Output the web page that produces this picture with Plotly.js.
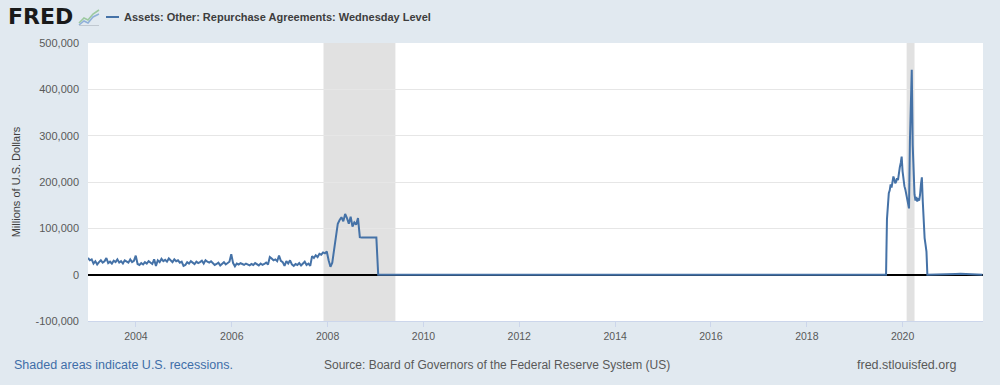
<!DOCTYPE html>
<html>
<head>
<meta charset="utf-8">
<script src="https://cdn.plot.ly/plotly-3.0.1.min.js"></script>
<style>
html,body{margin:0;padding:0;background:#e1e9f0;}
#chart{width:1000px;height:385px;}
</style>
</head>
<body>
<div id="chart"></div>
<script>
// ---- DATA (millions of U.S. dollars) ----
// Biweekly readings, starting 2003-01-01, 14-day steps (2003 .. 2008)
const seg1Start = "2003-01-01";
const seg1StepDays = 14;
const seg1Values = [
  36000, 31000, 33000, 24000, 29000, 22000, 27000, 31000, 26000, 29000, 36000, 25000, 28000,
  24000, 30000, 27000, 33000, 26000, 29000, 24000, 31000, 28000, 26000, 33000, 27000, 30000,
  41000, 23000, 21000, 25000, 22000, 27000, 24000, 29000, 26000, 23000, 33000, 19000, 31000,
  27000, 34000, 29000, 32000, 28000, 35000, 30000, 27000, 33000, 29000, 31000, 26000, 28000,
  19000, 21000, 27000, 24000, 29000, 26000, 23000, 28000, 25000, 27000, 30000, 24000, 31000,
  28000, 26000, 29000, 24000, 21000, 23000, 26000, 20000, 24000, 27000, 22000, 25000, 28000,
  44000, 25000, 18000, 24000, 22000, 25000, 23000, 21000, 24000, 22000, 20000, 23000, 21000,
  25000, 22000, 20000, 24000, 21000, 23000, 26000, 22000, 38000, 35000, 31000, 33000, 29000,
  41000, 30000, 27000, 19000, 29000, 24000, 31000, 22000, 19000, 23000, 21000, 25000, 20000,
  23000, 28000, 21000, 24000, 19000, 40000, 36000, 42000, 38000, 45000, 43000, 48000, 46000,
  50000, 31000, 17000, 26000, 55000, 90000, 110000, 118000, 124000, 115000, 131000, 122000, 110000,
  125000, 104000, 113000, 108000, 122000, 81000, 80000, 80000, 80000, 80000, 80000, 80000, 80000
];
// Individual readings between the two episodes
const seg2Dates = ["2009-01-07", "2009-01-21", "2019-08-28"];
const seg2Values = [80000, 0, 0];
// Weekly readings, starting 2019-09-04
const seg3Start = "2019-09-04";
const seg3StepDays = 7;
const seg3Values = [
  120000, 165000, 176000, 182000, 195000, 188000, 200000, 212000, 206000, 197000,
  201000, 208000, 204000, 222000, 232000, 241000, 255000, 223000, 205000, 191000,
  184000, 173000, 165000, 152000, 143000, 290000, 360000, 442000, 281000, 210000,
  173000, 160000, 168000, 158000, 165000, 160000, 172000, 195000, 210000, 158000,
  95000, 79000, 65000, 50000, 0
];
// Late readings
const seg4Dates = ["2021-01-06", "2021-02-10", "2021-03-17", "2021-04-21", "2021-06-02", "2021-09-01"];
const seg4Values = [0, 1500, 1800, 1500, 0, 0];

// Recessions
const recessionStarts = ["2007-12-01", "2020-02-01"];
const recessionEnds = ["2009-06-01", "2020-04-01"];

// Axis ticks
const yTickVals = [-100000, 0, 100000, 200000, 300000, 400000, 500000];
const yTickText = ["-100,000", "0", "100,000", "200,000", "300,000", "400,000", "500,000"];
const xTickVals = ["2004-01-01","2006-01-01","2008-01-01","2010-01-01","2012-01-01","2014-01-01","2016-01-01","2018-01-01","2020-01-01"];
const xTickText = ["2004","2006","2008","2010","2012","2014","2016","2018","2020"];

// ---- build series ----
function stepDates(start, stepDays, n) {
  const out = [];
  const t0 = new Date(start + "T00:00:00Z").getTime();
  for (let i = 0; i < n; i++) {
    out.push(new Date(t0 + i * stepDays * 86400000).toISOString().slice(0, 10));
  }
  return out;
}
const xs = [].concat(
  stepDates(seg1Start, seg1StepDays, seg1Values.length),
  seg2Dates,
  stepDates(seg3Start, seg3StepDays, seg3Values.length),
  seg4Dates
);
const ys = [].concat(seg1Values, seg2Values, seg3Values, seg4Values);

const trace = {
  x: xs, y: ys, type: "scatter", mode: "lines",
  line: {color: "#4572a7", width: 2},
  hoverinfo: "skip", showlegend: false
};

const T = 43, B = 64, PH = 385 - T - B, PW = 1000 - 88 - 17;
const shapes = recessionStarts.map((s, i) => ({
  type: "rect", xref: "x", yref: "paper", x0: s, x1: recessionEnds[i], y0: 0, y1: 1,
  fillcolor: "#e1e1e1", line: {width: 0}, layer: "below"
}));
// legend swatch
shapes.push({type: "line", xref: "paper", yref: "paper",
  x0: (106 - 88) / PW, x1: (119 - 88) / PW, y0: 1 + (T - 17) / PH, y1: 1 + (T - 17) / PH,
  line: {color: "#4572a7", width: 2}});

const logoSvg = '<svg xmlns="http://www.w3.org/2000/svg" width="22" height="18" viewBox="0 0 22 18">' +
  '<rect x="0" y="0" width="22" height="18" fill="#e1e9f0"/>' +
  '<polyline points="1,15 6,10 10,12 15,6 21,2" fill="none" stroke="#9cc9a0" stroke-width="1.6"/>' +
  '<polyline points="1,17 6,13 10,15 15,9 21,6" fill="none" stroke="#8fb0d8" stroke-width="1.6"/>' +
  '<line x1="1" y1="17.5" x2="21" y2="17.5" stroke="#c0c8d0" stroke-width="1"/></svg>';

const layout = {
  width: 1000, height: 385,
  paper_bgcolor: "#e1e9f0", plot_bgcolor: "#ffffff",
  margin: {l: 88, r: 17, t: T, b: B},
  font: {family: "Liberation Sans, Arial, sans-serif", size: 11, color: "#595959"},
  xaxis: {
    type: "date", range: ["2003-01-01", "2021-09-05"],
    tickvals: xTickVals, ticktext: xTickText,
    showgrid: false, zeroline: false,
    showline: true, linecolor: "#ccd6eb", linewidth: 1,
    ticks: "outside", ticklen: 5, tickcolor: "#ccd6eb",
    tickfont: {family: "Liberation Sans, Arial, sans-serif", size: 10.5, color: "#595959"},
    fixedrange: true
  },
  yaxis: {
    range: [-100000, 500000],
    tickvals: yTickVals, ticktext: yTickText,
    showgrid: true, gridcolor: "#e6e6e6", gridwidth: 1,
    zeroline: true, zerolinecolor: "#000000", zerolinewidth: 2,
    ticks: "", ticklabelstandoff: 8,
    tickfont: {size: 11, color: "#595959"},
    title: {text: "Millions of U.S. Dollars", font: {size: 11, color: "#404040"}, standoff: 12},
    fixedrange: true
  },
  shapes: shapes,
  images: [{
    source: "data:image/svg+xml;base64," + btoa(logoSvg),
    xref: "paper", yref: "paper",
    x: (78 - 88) / PW, y: 1 + (T - 8) / PH,
    sizex: 22 / PW, sizey: 18 / PH,
    xanchor: "left", yanchor: "top", sizing: "stretch", layer: "above"
  }],
  annotations: [
    {text: "<b>FRED</b>", xref: "paper", yref: "paper", x: (6 - 88) / PW, y: 1 + (T - 17) / PH,
     xanchor: "left", yanchor: "middle", showarrow: false,
     font: {family: "DejaVu Sans, Liberation Sans, Arial, sans-serif", size: 22, color: "#1a1a1a"}},
    {text: "<b>Assets: Other: Repurchase Agreements: Wednesday Level</b>", xref: "paper", yref: "paper",
     x: (122 - 88) / PW, y: 1 + (T - 17) / PH, xanchor: "left", yanchor: "middle", showarrow: false,
     font: {family: "Liberation Sans, Arial, sans-serif", size: 11, color: "#3d3d3d"}},
    {text: "Shaded areas indicate U.S. recessions.", xref: "paper", yref: "paper",
     x: (12 - 88) / PW, y: -(365 - (385 - B)) / PH, xanchor: "left", yanchor: "middle", showarrow: false,
     font: {family: "Liberation Sans, Arial, sans-serif", size: 12.5, color: "#3f6ea8"}},
    {text: "Source: Board of Governors of the Federal Reserve System (US)", xref: "paper", yref: "paper",
     x: (322 - 88) / PW, y: -(365 - (385 - B)) / PH, xanchor: "left", yanchor: "middle", showarrow: false,
     font: {family: "Liberation Sans, Arial, sans-serif", size: 12, color: "#595959"}},
    {text: "fred.stlouisfed.org", xref: "paper", yref: "paper",
     x: (958 - 88) / PW, y: -(365 - (385 - B)) / PH, xanchor: "right", yanchor: "middle", showarrow: false,
     font: {family: "Liberation Sans, Arial, sans-serif", size: 12.5, color: "#595959"}}
  ]
};

Plotly.newPlot("chart", [trace], layout, {displayModeBar: false, staticPlot: true});
</script>
</body>
</html>
